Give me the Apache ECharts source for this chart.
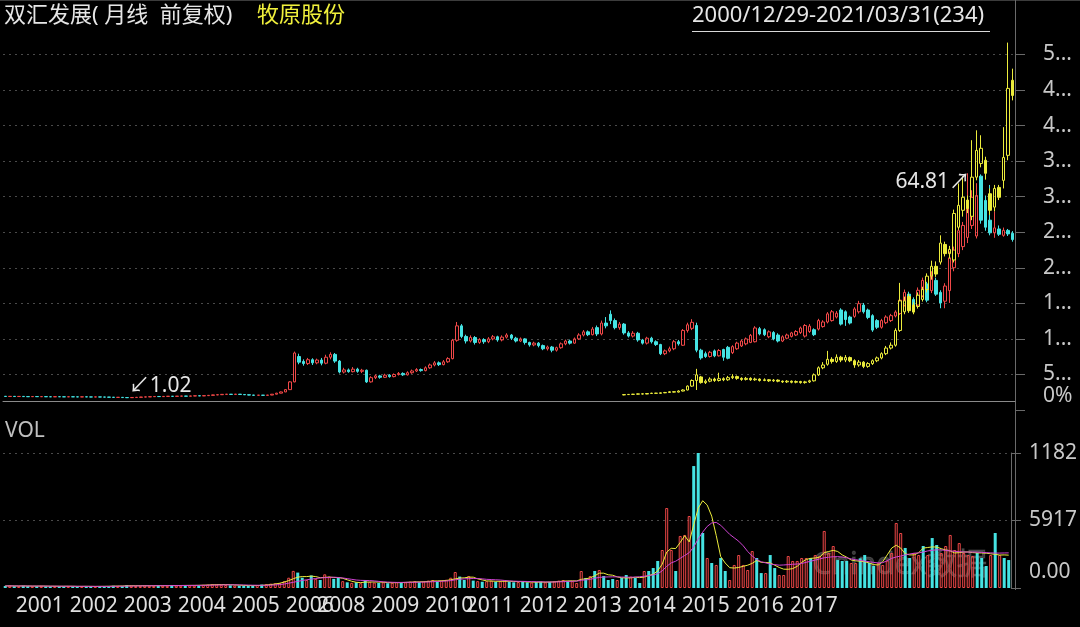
<!DOCTYPE html>
<html>
<head>
<meta charset="utf-8">
<title>双汇发展 / 牧原股份</title>
<script src="https://cdn.jsdelivr.net/npm/echarts@6/dist/echarts.min.js"></script>
<style>
html, body { margin: 0; padding: 0; background: #000; }
#chart { width: 1080px; height: 627px; }
</style>
</head>
<body>
<div id="chart"></div>
<script>
var FONT = "'Noto Sans', 'Noto Sans CJK SC', sans-serif";
var RED = '#f04848';
var CYAN = '#45e3e3';
var YELLOW = '#ecec3c';
var MAGENTA = '#d044d4';

// monthly bars, 2000/12 .. 2021/03, months without trading left out
var firstMonth = [2000, 12];
var lastMonth = [2021, 3];
var suspendedMonths = ['2006/04', '2006/05', '2006/06', '2006/07', '2006/08', '2006/09', '2006/10',
    '2006/11', '2006/12', '2007/01', '2007/02', '2007/03', '2007/04', '2007/05', '2007/06',
    '2007/07', '2007/08', '2010/05', '2010/06', '2010/07'];
var yearLabels = ['2001', '2002', '2003', '2004', '2005', '2006', '2007', '2008', '2009',
    '2010', '2011', '2012', '2013', '2014', '2015', '2016', '2017'];

// right axis labels (bottom to top), as shown
var priceTickLabels = ['5...', '1...', '1...', '2...', '2...', '3...', '3...', '4...', '4...', '5...'];
var volTicks = [0, 5917, 11834];
var volTickLabels = ['0.00', '5917', '1182'];

// 双汇发展 monthly candles: [open, close, low, high]
var shKline = [
    [1.52,1.45,1.40,1.58],[1.45,1.50,1.42,1.55],[1.50,1.44,1.40,1.54],[1.44,1.48,1.40,1.52],
    [1.48,1.42,1.38,1.50],[1.42,1.40,1.36,1.46],[1.40,1.44,1.36,1.48],[1.44,1.40,1.36,1.47],
    [1.40,1.42,1.36,1.46],[1.42,1.38,1.34,1.45],[1.38,1.36,1.32,1.42],[1.36,1.40,1.33,1.43],
    [1.40,1.37,1.33,1.43],[1.37,1.35,1.31,1.40],[1.35,1.38,1.32,1.41],[1.38,1.35,1.31,1.40],
    [1.35,1.33,1.29,1.38],[1.33,1.36,1.30,1.39],[1.36,1.33,1.29,1.39],[1.33,1.31,1.27,1.36],
    [1.31,1.34,1.28,1.37],[1.34,1.30,1.26,1.36],[1.30,1.28,1.24,1.33],[1.28,1.25,1.20,1.31],
    [1.25,1.20,1.15,1.28],[1.20,1.22,1.14,1.26],[1.22,1.15,1.10,1.25],[1.15,1.12,1.02,1.18],
    [1.12,1.18,1.08,1.22],[1.18,1.22,1.14,1.26],[1.22,1.30,1.18,1.34],[1.30,1.34,1.26,1.38],
    [1.34,1.40,1.30,1.44],[1.40,1.46,1.36,1.50],[1.46,1.42,1.38,1.52],[1.42,1.48,1.38,1.52],
    [1.48,1.52,1.44,1.56],[1.52,1.49,1.44,1.56],[1.49,1.55,1.45,1.58],[1.55,1.58,1.50,1.63],
    [1.58,1.54,1.50,1.62],[1.54,1.60,1.50,1.64],[1.60,1.66,1.56,1.70],[1.66,1.62,1.58,1.70],
    [1.62,1.70,1.58,1.74],[1.70,1.78,1.66,1.82],[1.78,1.90,1.74,1.95],[1.90,1.96,1.85,2.02],
    [1.96,2.06,1.90,2.12],[2.06,2.10,2.00,2.16],[2.10,2.04,1.98,2.14],[2.04,2.12,2.00,2.18],
    [2.12,2.02,1.96,2.16],[2.02,1.94,1.90,2.06],[1.94,1.86,1.80,1.98],[1.86,1.80,1.74,1.90],
    [1.80,1.84,1.74,1.88],[1.84,1.78,1.72,1.88],[1.78,1.86,1.74,1.90],[1.86,2.10,1.82,2.16],
    [2.10,2.40,2.05,2.48],[2.40,2.75,2.35,2.85],[2.75,3.40,2.70,3.55],[3.40,5.60,3.30,5.80],
    [5.60,13.80,5.50,14.20],[12.8,11.2,10.6,13.6],[11.4,10.8,10.2,12.0],[10.8,11.9,10.4,12.4],
    [11.9,11.0,10.4,12.3],[11.0,11.8,10.6,12.2],[11.8,10.9,10.3,12.4],[10.9,12.6,10.6,13.3],
    [12.6,13.4,12.0,14.0],[13.4,11.5,11.0,13.8],[11.5,8.4,8.0,11.8],[8.4,9.0,8.0,9.6],
    [9.0,8.5,8.2,9.4],[8.5,9.2,8.3,9.8],[9.2,8.6,8.2,9.6],[8.6,8.9,8.1,9.3],
    [8.9,5.6,5.3,9.1],[5.6,6.8,5.4,7.2],[6.8,7.3,6.4,7.7],[7.3,6.9,6.5,7.6],
    [6.9,7.5,6.7,7.9],[7.5,7.1,6.8,7.8],[7.1,7.7,6.9,8.0],[7.7,8.0,7.4,8.4],
    [8.0,7.6,7.3,8.3],[7.6,8.2,7.4,8.6],[8.2,8.7,7.9,9.1],[8.7,9.1,8.4,9.5],
    [9.1,8.8,8.5,9.4],[8.8,9.6,8.6,10.0],[9.6,10.4,9.3,10.8],[10.4,11.0,10.0,11.5],
    [11.0,10.5,10.1,11.4],[10.5,11.3,10.3,11.8],[11.3,12.2,11.0,12.6],[12.2,17.4,12.0,17.8],
    [17.4,21.5,17.0,22.6],[21.5,18.5,18.0,22.0],[18.5,17.2,16.5,19.0],[17.2,18.2,16.8,18.8],
    [18.2,16.8,16.2,18.6],[16.8,17.6,16.4,18.0],[17.6,17.0,16.4,18.0],[17.0,17.8,16.6,18.3],
    [17.8,18.4,17.4,18.9],[18.4,17.5,17.0,18.7],[17.5,18.3,17.1,18.8],[18.3,18.9,17.9,19.4],
    [18.9,18.0,17.5,19.2],[18.0,17.2,16.8,18.4],[17.2,17.8,16.9,18.2],[17.8,16.8,16.2,18.0],
    [16.8,16.1,15.6,17.0],[16.1,16.6,15.7,17.0],[16.6,15.9,15.4,16.9],[15.9,15.0,14.6,16.2],
    [15.0,15.5,14.5,15.9],[15.5,14.6,14.0,15.8],[14.6,15.3,14.2,15.6],[15.3,16.4,15.0,16.8],
    [16.4,17.2,16.0,17.6],[17.2,16.6,16.2,17.6],[16.6,17.8,16.4,18.2],[17.8,18.9,17.5,19.4],
    [18.9,19.8,18.5,20.3],[19.8,19.0,18.6,20.2],[19.0,20.6,18.8,21.2],[21.0,19.2,18.6,21.6],
    [19.2,22.3,18.8,23.0],[22.3,21.5,20.8,24.0],[24.8,23.0,22.0,25.9],[23.0,21.0,20.5,23.6],
    [21.0,22.0,20.4,22.6],[22.0,19.5,19.0,22.3],[19.5,18.6,18.2,20.0],[18.6,19.4,18.2,20.0],
    [19.4,17.5,17.0,19.8],[17.5,16.6,16.2,17.8],[16.6,18.0,16.2,18.4],[18.0,17.0,16.5,18.4],
    [17.0,16.2,15.8,17.4],[16.2,13.6,13.2,16.4],[13.6,14.4,13.2,14.8],[14.4,15.0,14.0,15.6],
    [15.0,17.0,14.6,17.5],[17.0,16.4,15.9,17.5],[16.0,20.2,15.8,20.6],[20.2,21.8,19.6,22.4],
    [20.8,22.5,20.3,23.4],[21.6,14.6,14.0,22.4],[14.6,12.4,11.9,15.0],[13.6,12.8,12.4,14.2],
    [12.8,14.0,12.5,14.4],[14.4,13.0,12.6,14.8],[13.0,14.5,12.8,14.9],[14.8,12.6,11.6,15.0],
    [15.4,12.3,12.0,15.8],[13.9,15.6,13.5,16.0],[15.0,16.6,14.7,17.0],[15.8,17.2,15.5,17.6],
    [16.4,17.8,16.0,18.2],[16.8,18.8,16.6,19.2],[17.0,20.9,16.8,21.4],[20.7,19.2,18.8,21.2],
    [20.4,19.0,18.6,20.8],[18.4,19.8,18.0,20.2],[19.6,17.8,17.4,20.0],[18.9,17.2,16.8,19.4],
    [17.2,18.4,16.9,18.8],[18.0,18.9,17.7,19.3],[18.5,19.5,18.2,19.8],[18.9,19.9,18.6,20.3],
    [19.6,20.9,19.2,21.3],[18.6,21.6,18.2,22.0],[19.9,21.4,19.5,22.0],[20.4,19.0,18.6,20.8],
    [20.6,23.0,20.2,23.5],[21.3,22.6,21.0,23.1],[22.6,24.9,22.2,25.4],[23.0,25.5,22.7,26.0],
    [24.0,25.1,23.6,25.7],[26.0,22.0,21.6,26.5],[25.5,23.3,21.5,25.9],[24.0,22.3,21.9,24.4],
    [24.2,26.3,23.8,26.8],[25.5,27.8,25.0,28.6],[27.4,25.5,25.0,28.0],[26.0,23.9,23.4,26.4],
    [24.4,20.3,19.8,24.8],[23.0,21.1,20.6,23.4],[21.1,23.0,20.7,23.5],[22.4,24.0,22.0,24.5],
    [23.0,24.4,22.6,24.9],[24.3,25.4,23.9,25.9],[25.0,28.8,24.6,29.4],[27.4,31.0,27.0,31.8],
    [30.5,28.3,27.8,31.2],[29.0,27.4,26.9,29.6],[27.4,31.6,27.0,32.4],[30.0,34.4,29.6,35.2],
    [33.4,28.8,28.2,34.0],[31.5,35.8,30.8,37.0],[34.4,30.5,30.0,35.2],[31.0,28.0,26.5,31.6],
    [28.5,32.8,26.5,33.6],[31.5,40.8,28.0,42.6],[38.0,43.0,37.0,44.0],[42.0,48.5,41.0,49.5],
    [44.0,50.0,43.0,51.0],[46.6,57.1,45.0,64.81],[50.0,58.0,49.0,60.0],[47.0,58.5,46.3,62.0],
    [64.0,51.5,50.5,64.5],[57.1,49.5,48.5,58.5],[51.5,47.9,47.2,61.5],[47.9,49.3,46.5,54.0],
    [49.0,47.5,47.0,50.0],[47.2,48.6,46.8,49.4],[48.6,47.6,47.0,49.0],[47.8,46.0,45.4,48.4]
];

// 牧原股份 overlay, listed from 2014/01 on: [open, close, low, high]
var myStartMonth = '2014/01';
var myKline = [
    [1.9,2.0,1.8,2.1],[2.0,2.05,1.9,2.15],[2.05,2.1,1.95,2.2],[2.1,2.2,2.0,2.3],
    [2.2,2.15,2.05,2.3],[2.15,2.3,2.1,2.4],[2.3,2.4,2.2,2.5],[2.4,2.35,2.25,2.5],
    [2.35,2.5,2.3,2.6],[2.5,2.6,2.4,2.75],[2.6,2.8,2.5,2.95],[2.8,2.7,2.6,2.9],
    [2.7,3.0,2.6,3.2],[3.0,3.3,2.9,3.5],[3.3,4.4,3.2,4.6],[4.4,6.0,4.2,6.3],
    [6.0,7.6,3.3,9.3],[7.0,5.4,5.1,7.3],[5.4,5.8,5.0,6.3],[5.8,6.4,5.5,6.9],
    [6.4,6.0,5.6,6.8],[6.0,6.5,5.7,8.2],[6.5,6.2,5.8,6.9],[6.2,6.8,5.9,7.3],
    [6.8,7.1,6.4,7.8],[7.1,6.6,6.2,7.4],[6.6,6.3,5.9,6.9],[6.3,6.6,6.0,7.0],
    [6.6,6.2,5.9,6.9],[6.2,6.4,5.9,6.8],[6.4,6.0,5.7,6.6],[6.0,6.2,5.8,6.6],
    [6.2,5.9,5.6,6.4],[5.9,6.1,5.6,6.4],[6.1,5.8,5.5,6.3],[5.8,5.6,5.3,6.0],
    [5.6,5.8,5.3,6.1],[5.8,5.5,5.2,6.0],[5.5,5.7,5.2,6.0],[5.7,5.4,5.1,5.9],
    [5.4,5.6,5.1,5.9],[5.6,5.9,5.3,6.2],[5.9,7.6,5.7,8.0],[7.6,9.6,7.3,10.0],
    [9.6,10.4,9.2,11.2],[10.6,12.0,10.2,14.4],[12.0,11.4,10.8,12.6],[11.4,12.6,11.0,13.4],
    [12.6,11.8,11.2,13.0],[11.8,12.5,11.2,13.2],[12.5,11.6,11.2,12.8],[11.6,10.4,9.6,12.0],
    [10.4,11.2,9.9,11.8],[11.2,10.0,9.5,11.5],[10.0,10.8,9.6,11.2],[10.8,11.6,10.4,12.0],
    [11.6,12.4,11.2,12.8],[12.4,13.6,12.0,14.0],[13.6,15.2,13.2,15.8],[15.2,16.0,14.8,16.8],
    [16.0,20.2,15.6,20.8],[20.2,28.6,19.8,33.7],[25.5,28.6,24.8,29.8],[29.8,25.8,25.2,30.6],
    [27.4,25.4,24.8,28.2],[27.0,30.2,26.4,31.0],[29.0,31.8,28.4,32.6],[31.8,35.6,31.0,36.4],
    [35.6,38.4,34.6,40.0],[38.4,36.2,35.4,39.8],[39.6,45.0,38.9,47.2],[44.6,42.0,41.2,45.4],
    [42.0,43.2,40.6,44.2],[40.2,53.4,39.5,54.5],[49.5,55.7,48.8,61.9],[54.3,58.0,52.5,64.0],
    [57.2,54.8,53.5,58.5],[52.6,63.7,51.5,74.2],[63.7,71.3,62.8,77.0],[67.6,71.9,66.5,75.6],
    [68.5,64.8,63.0,69.5],[59.0,54.3,53.0,60.5],[55.2,60.5,54.0,61.5],[60.8,58.0,57.2,61.5],
    [62.8,69.3,60.5,77.9],[69.9,88.9,68.5,101.9],[91.2,86.9,85.5,94.5]
];

// monthly volume of 双汇发展
var volumes = [
    180,220,160,150,200,170,140,160,190,150,130,170,150,140,160,130,120,150,140,120,130,150,140,160,
    200,180,170,250,210,180,190,220,200,180,230,210,190,240,220,200,260,230,210,250,280,300,340,310,280,260,
    240,220,200,210,190,230,260,300,340,380,420,
    440,600,900,1500,1350,900,700,1100,800,700,1200,1000,800,
    900,600,500,450,500,420,700,550,480,450,500,420,460,520,480,500,560,600,520,580,650,700,600,650,720,900,
    1400,1000,700,1050,650,600,550,600,650,550,600,650,550,500,520,560,500,480,520,560,500,540,580,650,700,
    620,600,440,1490,880,1050,1490,1580,1050,700,790,700,
    880,1140,1000,880,440,1490,1490,1750,2370,3330,7010,3330,1490,4560,4650,6310,10690,11834,4820,2630,
    2190,2020,2630,1490,700,2020,2890,2020,1580,3240,2630,1310,1310,2890,1750,1140,1140,2800,2370,2370,
    2630,2630,2630,2890,2800,5000,
    3070,3680,2450,2370,2370,2190,2190,2600,2890,2190,1930,2190,2020,2400,3070,5700,4820,3510,2630,3070,
    2890,3680,2890,4380,3770,3070,3680,4650,3330,3940,3070,2890,2800,3070,2630,1930,2890,4820,2890,2630,2450
];

// volume average lines as drawn (yellow and magenta)
var volMaYellow = [
    180,190,180,175,180,175,165,165,170,165,155,155,150,150,155,150,140,140,145,140,135,140,145,150,
    160,170,175,190,200,200,200,200,200,205,205,205,210,220,215,220,225,230,230,235,245,260,280,295,300,300,
    290,270,250,230,215,210,215,230,260,300,350,
    420,520,650,810,950,1000,1000,1040,1000,900,930,960,920,
    920,850,720,590,500,470,520,520,530,520,510,470,460,470,470,490,510,530,540,550,570,610,620,640,660,720,
    800,870,890,950,950,800,710,620,610,590,590,590,590,570,560,560,530,520,510,520,510,520,540,570,600,
    620,630,620,760,800,890,1070,1300,1300,1160,1120,970,
    900,880,890,940,910,960,1090,1210,1510,2090,3150,3480,3460,3990,4580,4040,5540,7000,7650,7270,
    6300,4610,2750,2190,1780,1750,1800,1900,2000,2160,2420,2250,2240,2200,2000,1800,1650,1640,1700,1900,
    2250,2500,2600,2630,2700,3100,
    3200,3300,3200,2900,2700,2450,2380,2350,2300,2200,2050,2020,2300,2900,3500,3750,3500,3000,2900,2900,
    3100,3500,3550,3600,3590,3450,3330,3250,3070,3100,3150,3160,3100,3080,3070,3050,3000,2950,2890,2900,2880
];
var volMaMagenta = [
    180,185,180,178,178,176,172,170,170,168,164,162,160,158,156,155,152,150,148,146,144,143,143,145,
    150,155,160,168,175,180,185,190,195,200,203,205,207,210,212,214,218,222,226,230,235,242,250,260,268,275,
    280,278,272,265,255,245,240,238,240,250,270,
    300,350,420,500,580,660,720,780,830,880,910,930,950,
    920,880,820,760,700,670,660,650,620,580,540,520,500,490,490,500,500,500,510,520,530,550,570,590,610,650,
    720,770,800,820,830,830,800,760,740,720,700,660,620,600,585,580,570,560,550,540,530,525,530,540,555,
    575,590,600,680,710,760,850,930,960,970,980,980,
    960,950,940,960,990,1030,1090,1150,1250,1500,1900,2200,2350,2600,2850,3100,3600,4300,4900,5400,
    5700,5750,5500,5100,4700,4400,4100,3700,3200,2800,2500,2300,2200,2100,2050,2000,2020,2050,2080,2100,
    2150,2250,2350,2450,2550,2650,
    2700,2740,2750,2720,2650,2550,2480,2420,2360,2300,2240,2200,2220,2400,2600,2720,2800,2900,2980,3050,
    3080,3150,3250,3300,3350,3340,3300,3250,3220,3180,3160,3150,3150,3140,3120,3100,3080,3060,3060,3070,3080
];

function pad2(n) { return n < 10 ? '0' + n : '' + n; }

function buildMonths() {
    var list = [];
    var y = firstMonth[0], m = firstMonth[1];
    while (y < lastMonth[0] || (y === lastMonth[0] && m <= lastMonth[1])) {
        var key = y + '/' + pad2(m);
        if (suspendedMonths.indexOf(key) < 0) list.push(key);
        m++;
        if (m > 12) { m = 1; y++; }
    }
    return list;
}

var months = buildMonths();

// overlay starts at its listing month
var myStart = months.indexOf(myStartMonth);
var myData = months.map(function (k, i) {
    return i < myStart ? '-' : myKline[i - myStart];
});

var volData = volumes.map(function (v, i) {
    var up = shKline[i][1] >= shKline[i][0];
    return {
        value: v,
        itemStyle: up
            ? { color: 'rgba(0,0,0,0)', borderColor: RED, borderWidth: 1 }
            : { color: CYAN, borderColor: CYAN, borderWidth: 0 }
    };
});

var firstClose = shKline[0][1];

var chart = echarts.init(document.getElementById('chart'), null, { renderer: 'canvas' });

var labelStyle = { color: '#c8c8c8', fontSize: 21, fontFamily: FONT };

var option = {
    backgroundColor: '#000',
    animation: false,
    title: [
        { text: '双汇发展( 月线  前复权)', left: 4, top: 5, padding: 0,
          textStyle: { color: '#e6e6e6', fontSize: 22, fontWeight: 'normal', fontFamily: FONT } },
        { text: '牧原股份', left: 257, top: 5, padding: 0,
          textStyle: { color: '#f0f03c', fontSize: 22, fontWeight: 'normal', fontFamily: FONT } },
        { text: '2000/12/29-2021/03/31(234)', left: 692, top: 5, padding: 0,
          textStyle: { color: '#e6e6e6', fontSize: 22, fontWeight: 'normal', fontFamily: FONT } },
        { text: 'VOL', left: 5, top: 421, padding: 0,
          textStyle: { color: '#c0c0c0', fontSize: 21, fontWeight: 'normal', fontFamily: FONT } }
    ],
    graphic: [
        { type: 'line', shape: { x1: 0, y1: 0.5, x2: 1080, y2: 0.5 }, style: { stroke: '#3c3c3c', lineWidth: 1 } },
        { type: 'line', shape: { x1: 1015.5, y1: 0, x2: 1015.5, y2: 590 }, style: { stroke: '#6a6a6a', lineWidth: 1 } },
        { type: 'line', shape: { x1: 692, y1: 31.5, x2: 990, y2: 31.5 }, style: { stroke: '#d8d8d8', lineWidth: 1 } },
        { type: 'text', left: 812, top: 550, silent: true,
          style: { text: 'Cnindex数据', fill: 'rgba(255,255,255,0.22)', fontSize: 30, fontFamily: FONT,
                   stroke: 'rgba(255,255,255,0.15)', lineWidth: 1 } }
    ],
    grid: [
        { left: 3, width: 1012, top: 54.4, height: 355.6 },
        { left: 3, width: 1012, top: 453, height: 135 }
    ],
    xAxis: [
        { type: 'category', gridIndex: 0, data: months, boundaryGap: true,
          axisLine: { show: true, lineStyle: { color: '#8a8a8a', width: 1 } },
          axisTick: { show: false }, axisLabel: { show: false }, splitLine: { show: false } },
        { type: 'category', gridIndex: 1, data: months, boundaryGap: true,
          axisLine: { show: false }, axisTick: { show: false }, splitLine: { show: false },
          axisLabel: {
              show: true, color: '#e0e0e0', fontSize: 21, fontFamily: FONT, margin: 8,
              align: 'left', padding: [0, 0, 0, 6],
              interval: function (idx, val) {
                  return val.slice(5) === '01' && yearLabels.indexOf(val.slice(0, 4)) >= 0;
              },
              formatter: function (val) { return val.slice(0, 4); }
          } }
    ],
    yAxis: [
        // price scale (hidden, carries the data) with the 0% mark at the first close
        { type: 'value', gridIndex: 0, position: 'right', min: -2.38, max: 98.55, scale: true,
          axisLine: { show: false }, axisTick: { show: false, customValues: [firstClose] },
          splitLine: { show: false },
          axisLabel: Object.assign({ margin: 28, customValues: [firstClose],
              formatter: function (v) { return Math.abs(v - firstClose) < 1e-6 ? '0%' : ''; } }, labelStyle) },
        // grid lines and right-hand labels of the price panel
        { type: 'value', gridIndex: 0, position: 'right', min: 0, max: 10, interval: 1,
          axisLine: { show: true, lineStyle: { color: '#6a6a6a' } },
          axisTick: { show: true, length: 10, lineStyle: { color: '#6a6a6a' } },
          splitLine: { show: true, showMinLine: false, lineStyle: { color: '#4a4a4a', type: [2, 4] } },
          axisLabel: Object.assign({ margin: 28,
              formatter: function (v) { return v >= 1 ? priceTickLabels[v - 1] : ''; } }, labelStyle) },
        // volume
        { type: 'value', gridIndex: 1, position: 'right', min: 0, max: volTicks[2], interval: volTicks[1],
          axisLine: { show: true, lineStyle: { color: '#6a6a6a' } },
          axisTick: { show: true, length: 10, lineStyle: { color: '#6a6a6a' } },
          splitLine: { show: true, showMinLine: false, lineStyle: { color: '#4a4a4a', type: [2, 4] } },
          axisLabel: Object.assign({ margin: 18,
              formatter: function (v) {
                  var i = volTicks.indexOf(v);
                  if (i === 0) return '{z|' + volTickLabels[0] + '}';
                  return i > 0 ? volTickLabels[i] : '';
              },
              rich: { z: { color: '#c8c8c8', fontSize: 21, fontFamily: FONT, padding: [0, 0, 32, 0] } }
          }, labelStyle) }
    ],
    series: [
        {
            name: '双汇发展', type: 'candlestick', xAxisIndex: 0, yAxisIndex: 0,
            data: shKline, barWidth: 3, clip: false,
            itemStyle: { color: 'rgba(0,0,0,0)', color0: CYAN, borderColor: RED, borderColor0: CYAN, borderWidth: 1 },
            markPoint: {
                symbol: 'circle', symbolSize: 1, itemStyle: { color: 'rgba(0,0,0,0)' },
                label: { show: true, color: '#e6e6e6', fontSize: 21, fontFamily: FONT },
                data: [
                    { type: 'max', valueDim: 'highest',
                      label: { position: 'left', distance: 0, offset: [3, 9],
                               formatter: function (p) { return p.value.toFixed(2) + '↗'; } } },
                    { type: 'min', valueDim: 'lowest',
                      label: { position: 'right', distance: 1, offset: [0, -12],
                               formatter: function (p) { return '↙' + p.value.toFixed(2); } } }
                ]
            }
        },
        {
            name: '牧原股份', type: 'candlestick', xAxisIndex: 0, yAxisIndex: 0,
            data: myData, barWidth: 3, clip: false,
            itemStyle: { color: 'rgba(0,0,0,0)', color0: YELLOW, borderColor: YELLOW, borderColor0: YELLOW, borderWidth: 1 }
        },
        {
            name: 'VOL', type: 'bar', xAxisIndex: 1, yAxisIndex: 2,
            data: volData, barWidth: 3
        },
        {
            name: 'MA5', type: 'line', xAxisIndex: 1, yAxisIndex: 2, data: volMaYellow,
            symbol: 'none', lineStyle: { color: YELLOW, width: 1 }
        },
        {
            name: 'MA10', type: 'line', xAxisIndex: 1, yAxisIndex: 2, data: volMaMagenta,
            symbol: 'none', lineStyle: { color: MAGENTA, width: 1 }
        }
    ]
};

chart.setOption(option);
</script>
</body>
</html>
